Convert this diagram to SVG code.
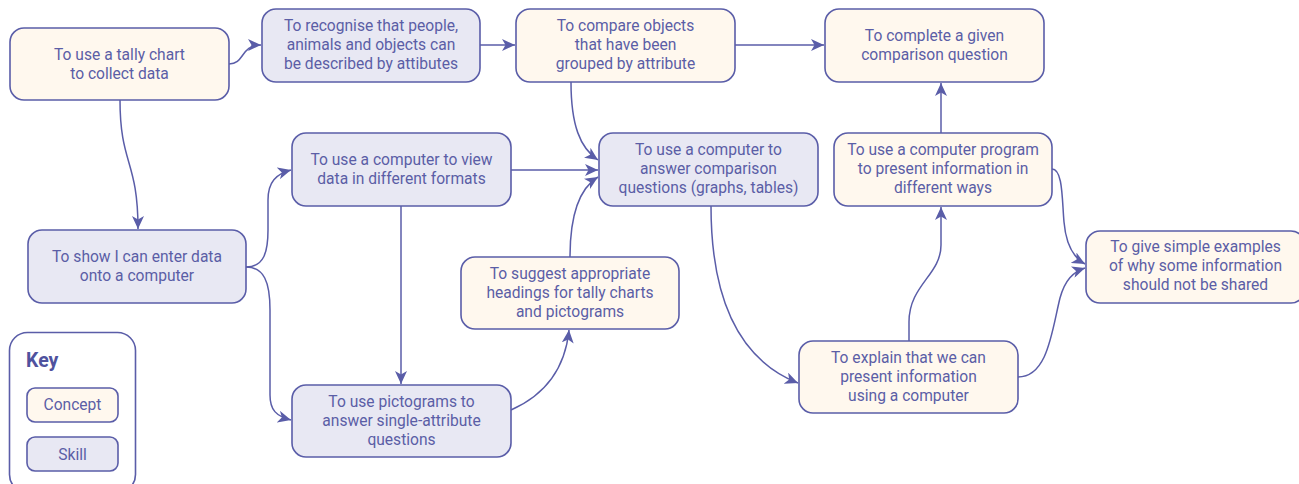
<svg xmlns="http://www.w3.org/2000/svg" width="1299" height="484" viewBox="0 0 1299 484">
<defs>
<style>
.n rect{stroke:#5a5da8;stroke-width:1.6}
.c rect{fill:#fff8ee}
.s rect{fill:#e8e8f3}
text{font-family:Roboto,"Liberation Sans",sans-serif;font-size:15.6px;fill:#5b5ea6;text-anchor:middle;dominant-baseline:central}
#edges path{fill:none;stroke:#5a5da8;stroke-width:1.5}
</style>
<marker id="ah" markerUnits="userSpaceOnUse" markerWidth="14" markerHeight="12" refX="13" refY="6" orient="auto">
<path d="M0,0 L13,6 L0,12 L3.5,6 Z" fill="#5a5da8"/>
</marker>
</defs>
<rect width="1299" height="484" fill="#ffffff"/>

<g id="edges">
<path d="M229,64 C245,64 240,45 261,45" marker-end="url(#ah)"/>
<path d="M480,45 L515,45" marker-end="url(#ah)"/>
<path d="M735,45 L824,45" marker-end="url(#ah)"/>
<path d="M120,100 C120,165 138,160 138,229" marker-end="url(#ah)"/>
<path d="M246,267 C264,267 268,252 268,230 L268,200 C268,182 276,174 291,170" marker-end="url(#ah)"/>
<path d="M246,267 C264,267 270,282 270,310 L270,395 C270,410 276,416 291,420" marker-end="url(#ah)"/>
<path d="M401,206 L401,384" marker-end="url(#ah)"/>
<path d="M511,170 L598,170" marker-end="url(#ah)"/>
<path d="M571,82 C571,125 580,148 598,160" marker-end="url(#ah)"/>
<path d="M570,257 C570,215 580,188 598,177" marker-end="url(#ah)"/>
<path d="M511,410 C545,395 565,370 569,330" marker-end="url(#ah)"/>
<path d="M711,206 C711,300 740,360 798,383" marker-end="url(#ah)"/>
<path d="M909,341 L909,322 C909,285 941,275 941,245 L941,207" marker-end="url(#ah)"/>
<path d="M941,133 L941,83" marker-end="url(#ah)"/>
<path d="M1052,169 C1063,169 1062,200 1064,222 C1066,245 1074,258 1085,264" marker-end="url(#ah)"/>
<path d="M1018,377 C1048,377 1052,330 1060,298 C1065,280 1073,272 1085,268" marker-end="url(#ah)"/>
</g>

<g id="n-tally" class="n c"><rect x="10" y="28" width="219" height="72" rx="14"/>
<text x="119.5" y="55">To use a tally chart</text><text x="119.5" y="74">to collect data</text></g>

<g id="n-recognise" class="n s"><rect x="262" y="9" width="218" height="73" rx="14"/>
<text x="371" y="26">To recognise that people,</text><text x="371" y="45">animals and objects can</text><text x="371" y="64">be described by attibutes</text></g>

<g id="n-compare" class="n c"><rect x="516" y="9" width="219" height="73" rx="14"/>
<text x="625.5" y="26">To compare objects</text><text x="625.5" y="45">that have been</text><text x="625.5" y="64">grouped by attribute</text></g>

<g id="n-complete" class="n c"><rect x="825" y="9" width="219" height="73" rx="14"/>
<text x="934.5" y="36">To complete a given</text><text x="934.5" y="55">comparison question</text></g>

<g id="n-view" class="n s"><rect x="292" y="133" width="219" height="73" rx="14"/>
<text x="401.5" y="160">To use a computer to view</text><text x="401.5" y="179">data in different formats</text></g>

<g id="n-answer" class="n s"><rect x="599" y="133" width="219" height="73" rx="14"/>
<text x="708.5" y="150">To use a computer to</text><text x="708.5" y="169">answer comparison</text><text x="708.5" y="188">questions (graphs, tables)</text></g>

<g id="n-program" class="n c"><rect x="834" y="133" width="218" height="73" rx="14"/>
<text x="943" y="150">To use a computer program</text><text x="943" y="169">to present information in</text><text x="943" y="188">different ways</text></g>

<g id="n-enter" class="n s"><rect x="28" y="230" width="218" height="73" rx="14"/>
<text x="137" y="257">To show I can enter data</text><text x="137" y="276">onto a computer</text></g>

<g id="n-headings" class="n c"><rect x="461" y="257" width="218" height="72" rx="14"/>
<text x="570" y="274">To suggest appropriate</text><text x="570" y="293">headings for tally charts</text><text x="570" y="312">and pictograms</text></g>

<g id="n-examples" class="n c"><rect x="1086" y="231" width="219" height="72" rx="14"/>
<text x="1195.5" y="247">To give simple examples</text><text x="1195.5" y="266">of why some information</text><text x="1195.5" y="285">should not be shared</text></g>

<g id="n-explain" class="n c"><rect x="799" y="341" width="219" height="72" rx="14"/>
<text x="908.5" y="358">To explain that we can</text><text x="908.5" y="377">present information</text><text x="908.5" y="396">using a computer</text></g>

<g id="n-pictograms" class="n s"><rect x="292" y="385" width="219" height="72" rx="14"/>
<text x="401.5" y="402">To use pictograms to</text><text x="401.5" y="421">answer single-attribute</text><text x="401.5" y="440">questions</text></g>

<g id="key">
<rect x="9.5" y="332.5" width="126" height="160" rx="18" fill="#ffffff" stroke="#5a5da8" stroke-width="1.6"/>
<text x="26" y="360" style="text-anchor:start;font-weight:bold;font-size:19.5px;fill:#4f529e">Key</text>
<g id="key-concept" class="n c"><rect x="27" y="388" width="91" height="34" rx="8"/><text x="72.5" y="405">Concept</text></g>
<g id="key-skill" class="n s"><rect x="27" y="437" width="91" height="34" rx="8"/><text x="72.5" y="455">Skill</text></g>
</g>
</svg>
